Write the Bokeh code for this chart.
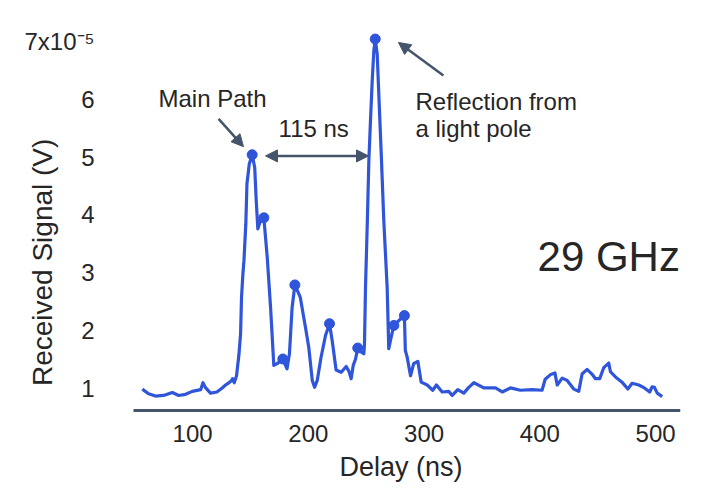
from bokeh.plotting import figure
from bokeh.models import Range1d, FixedTicker, Label, Arrow, NormalHead
from bokeh.embed import file_html
from bokeh.resources import INLINE

# Received signal trace (x10^-5 V) versus delay (ns)
delay_ns = [56.6, 62, 68, 75, 82.5, 88, 94, 99.7, 107, 109, 111, 115.5, 121, 125.6,
            128.5, 130, 133.4, 134.5, 136, 138, 139, 140, 141.5, 142.3, 143.5, 144.4,
            146, 147, 149, 151.5, 153.7, 155, 156.4, 158.7, 161.6, 164.5, 167.4, 170.2,
            173, 178, 181.6, 183.7, 186, 188.4, 193, 197.6, 200.4, 203.4, 205.4, 207.7,
            211, 214.9, 218.3, 220.6, 224, 228.4, 232.7, 235, 237, 238.8, 240.8, 242.7,
            245, 247.9, 248.5, 249.4, 251, 252.3, 253.7, 255.2, 256.6, 257.8, 259.5,
            261, 263, 265.2, 268.1, 269.5, 271.6, 273.9, 278, 283, 283.8, 285.4, 288.3,
            291, 294.6, 297.5, 302.7, 307.5, 310.7, 315.6, 321.4, 324.3, 329.1, 334.3,
            338.6, 343, 351.6, 361.7, 367.5, 374.6, 383.2, 393.3, 401.9, 404.6, 409.2,
            413, 415, 419.3, 423.6, 429.3, 433.6, 436.5, 440.8, 445, 448, 451.7, 455.2,
            459.5, 461, 465.3, 471, 476, 479.7, 485.5, 490.3, 494.9, 497, 499, 501.4,
            505.7]
signal_e5 = [0.99, 0.91, 0.87, 0.88, 0.93, 0.88, 0.90, 0.95, 0.98, 1.10, 1.02, 0.92, 0.94,
             1.01, 1.06, 1.08, 1.13, 1.17, 1.10, 1.22, 1.40, 1.57, 1.95, 2.58, 2.98, 3.21,
             3.84, 4.54, 4.88, 5.04, 4.82, 4.25, 3.76, 3.90, 3.95, 3.27, 2.40, 1.40, 1.43,
             1.51, 1.34, 1.60, 2.40, 2.79, 2.58, 2.05, 1.71, 1.14, 1.02, 1.14, 1.54, 1.92,
             2.12, 1.83, 1.32, 1.28, 1.38, 1.30, 1.17, 1.40, 1.51, 1.70, 1.64, 1.60, 1.75,
             2.75, 3.90, 4.94, 5.63, 6.32, 6.84, 7.04, 6.78, 6.03, 5.05, 3.90, 2.75, 1.69,
             1.89, 2.09, 2.17, 2.26, 1.66, 1.54, 1.22, 1.43, 1.47, 1.11, 1.06, 0.97, 1.06,
             0.94, 0.95, 0.88, 0.98, 0.92, 1.02, 1.10, 1.01, 1.01, 0.94, 1.01, 0.97, 0.98,
             0.97, 1.16, 1.24, 1.27, 1.06, 1.18, 1.14, 0.99, 0.95, 1.25, 1.33, 1.25, 1.17,
             1.17, 1.36, 1.44, 1.29, 1.20, 1.11, 0.99, 1.09, 1.06, 1.01, 0.94, 1.03, 1.02,
             0.92, 0.86]

# Detected multipath components
peak_ns = [151.5, 161.6, 178, 188.4, 218.3, 242.7, 257.8, 273.9, 283]
peak_e5 = [5.04, 3.95, 1.51, 2.79, 2.12, 1.70, 7.04, 2.09, 2.26]

x_ticks = [100, 200, 300, 400, 500]
y_ticks = [1, 2, 3, 4, 5, 6, 7]
y_tick_text = {7: "7x10\u207b\u2075"}

X_START, X_END = 49, 521.5     # extent of the drawn delay axis
Y_START, Y_END = 0.62, 7.36    # extent of the signal axis

FONT = "Liberation Sans"
TEXT = "#262626"
BLUE = "#2f55da"
SLATE = "#44546a"

# The frame covers the whole canvas (bar a right/top margin) so that the axis
# titles can be placed freely; both axes are pinned at the start of the other.
p = figure(width=710, height=488, output_backend="svg", toolbar_location=None,
           x_range=Range1d(-65.9, X_END), y_range=Range1d(-0.728, Y_END),
           min_border_left=0, min_border_right=30, min_border_top=20,
           min_border_bottom=0)
p.outline_line_color = None
p.grid.visible = False
p.background_fill_color = "white"

p.line(delay_ns, signal_e5, line_color=BLUE, line_width=3.2, line_join="round")
p.scatter(peak_ns, peak_e5, size=10, fill_color=BLUE, line_color=BLUE)

# x axis
p.xaxis.fixed_location = Y_START
p.xaxis.bounds = (X_START, X_END)
p.xaxis.ticker = FixedTicker(ticks=x_ticks)
p.xaxis.axis_line_color = SLATE
p.xaxis.axis_line_width = 3
p.xaxis.major_tick_line_color = None
p.xaxis.minor_tick_line_color = None
p.xaxis.major_label_standoff = 8
p.xaxis.major_label_text_font = FONT
p.xaxis.major_label_text_font_size = "24px"
p.xaxis.major_label_text_color = TEXT

# y axis
p.yaxis.fixed_location = X_START
p.yaxis.ticker = FixedTicker(ticks=y_ticks)
p.yaxis.major_label_overrides = y_tick_text
p.yaxis.axis_line_color = None
p.yaxis.major_tick_line_color = None
p.yaxis.minor_tick_line_color = None
p.yaxis.major_label_standoff = 33
p.yaxis.major_label_text_font = FONT
p.yaxis.major_label_text_font_size = "24px"
p.yaxis.major_label_text_color = TEXT

# axis titles
p.add_layout(Label(x=280, y=-0.365, text="Delay (ns)", text_align="center",
                   text_baseline="middle", text_font=FONT, text_font_size="27px",
                   text_color=TEXT))
p.add_layout(Label(x=-29.5, y=3.18, text="Received Signal (V)", angle=1.5708,
                   text_align="center", text_baseline="middle", text_font=FONT,
                   text_font_size="28px", text_color=TEXT))

# annotations
def note(x, y, txt, size="24px", align="left"):
    p.add_layout(Label(x=x, y=y, text=txt, text_align=align, text_baseline="middle",
                       text_font=FONT, text_font_size=size, text_color=TEXT))

note(70.6, 6.01, "Main Path")
note(174.3, 5.49, "115 ns")
note(292.6, 5.96, "Reflection from")
note(292.6, 5.49, "a light pole")
note(521, 3.28, "29 GHz", size="42px", align="right")

def head():
    return NormalHead(size=12, fill_color=SLATE, line_color=SLATE)

p.add_layout(Arrow(x_start=122.5, y_start=5.66, x_end=144, y_end=5.18,
                   line_color=SLATE, line_width=2.5, end=head()))
p.add_layout(Arrow(x_start=163, y_start=5.02, x_end=252, y_end=5.02,
                   line_color=SLATE, line_width=2.5, start=head(), end=head()))
p.add_layout(Arrow(x_start=316.7, y_start=6.41, x_end=277.9, y_end=6.98,
                   line_color=SLATE, line_width=2.5, end=head()))

open("out.html", "w").write(file_html(p, INLINE))
